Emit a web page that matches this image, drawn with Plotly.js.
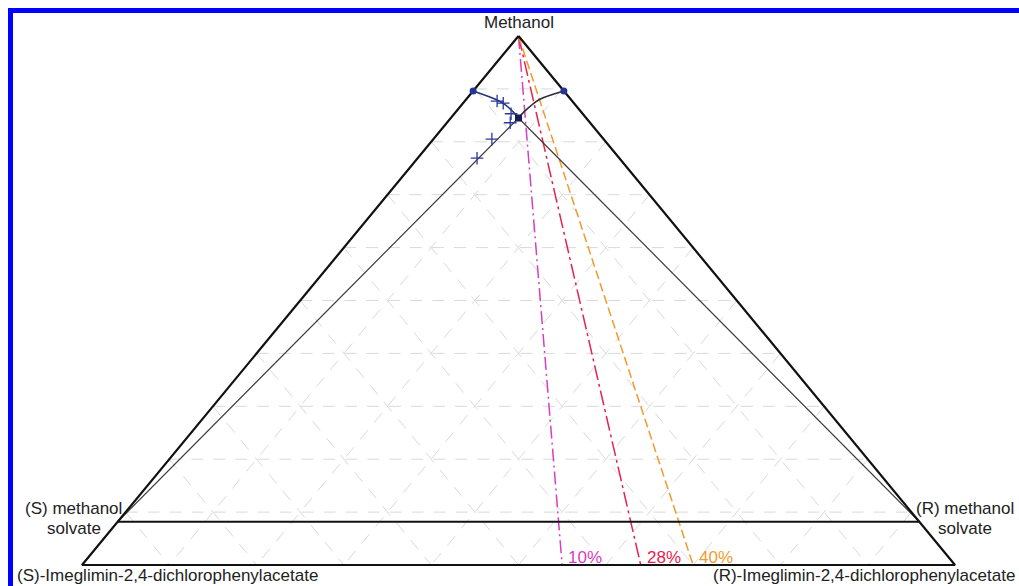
<!DOCTYPE html>
<html>
<head>
<meta charset="utf-8">
<script src="https://cdn.plot.ly/plotly-3.0.1.min.js"></script>
<style>
  html, body { margin: 0; padding: 0; background: #fff; }
  #wrap { position: relative; width: 1019px; height: 586px; overflow: hidden; }
  #chart { width: 1019px; height: 586px; }
  #frame { position: absolute; left: 8px; top: 8px; width: 1011px; height: 578px;
           border-left: 5px solid #0000ff; border-top: 5px solid #0000ff;
           box-sizing: border-box; pointer-events: none; }
</style>
</head>
<body>
<div id="wrap"><div id="chart"></div><div id="frame"></div></div>
<script>
// ---------- data (ternary mass fractions: a = methanol, b = (S), c = (R)) ----------
const vertexLabels = ['Methanol', '(S)-Imeglimin-2,4-dichlorophenylacetate', '(R)-Imeglimin-2,4-dichlorophenylacetate'];
const solvateLabels = ['(S) methanol', '(R) methanol', 'solvate'];
const gridTicks = [0.1, 0.2, 0.3, 0.4, 0.5, 0.6, 0.7, 0.8, 0.9];
const solvateMethanol = 0.0817;               // methanol fraction of the 1:1 solvates

// pure-enantiomer solubility points (on the sides)
const pureA = [0.896, 0.896];
const pureB = [0.104, 0.000];
const pureC = [0.000, 0.104];

// eutectic (racemic) point
const eutA = [0.845];
const eutB = [0.0775];
const eutC = [0.0775];

// solubility curve S-side (pure S point -> eutectic)
const curveSA = [0.896, 0.879, 0.870, 0.858, 0.845];
const curveSC = [0.000, 0.036, 0.050, 0.064, 0.0775];
// solubility curve R-side (pure R point -> eutectic)
const curveRA = [0.896, 0.880, 0.868, 0.857, 0.845];
const curveRB = [0.000, 0.036, 0.052, 0.065, 0.0775];

// measured points (+)
const crossA = [0.877, 0.873, 0.853, 0.836, 0.805, 0.769];
const crossC = [0.037, 0.046, 0.065, 0.0725, 0.067, 0.068];

// enantiomeric-excess lines from the methanol vertex
const eeValues = [10, 28, 40];
const eeLabels = ['10%', '28%', '40%'];
const eeColors = ['#d63fbf', '#e6224e', '#f29a2e'];
const eeDash = ['13px,4px,2px,4px', '15px,4px,3px,4px', '9px,4px'];

// ---------- projection ternary -> plane ----------
function px(a, b, c) { const s = a + b + c; return c / s + 0.5 * a / s; }
function py(a, b, c) { const s = a + b + c; return a / s; }
function proj(A, B, C) {
  return { x: A.map((a, i) => px(a, B[i], C[i])), y: A.map((a, i) => py(a, B[i], C[i])) };
}

const traces = [];
const gridStyle = { color: '#d9d9d9', width: 1, dash: '12px,10px' };
function seg(A, B, C, line, extra) {
  const p = proj(A, B, C);
  traces.push(Object.assign({ type: 'scatter', mode: 'lines', x: p.x, y: p.y, line: line,
    hoverinfo: 'skip', cliponaxis: false }, extra || {}));
}

// grid lines
gridTicks.forEach(k => {
  seg([k, k], [1 - k, 0], [0, 1 - k], gridStyle);          // constant methanol
  seg([1 - k, 0], [k, k], [0, 1 - k], gridStyle);          // constant S
  seg([1 - k, 0], [0, 1 - k], [k, k], gridStyle);          // constant R
});

// ee lines
eeValues.forEach((e, i) => {
  const cb = (1 + e / 100) / 2;
  seg([1, 0], [0, 1 - cb], [0, cb], { color: eeColors[i], width: 1.5, dash: eeDash[i] });
});

// tie lines solvate -> eutectic
seg([solvateMethanol, eutA[0]], [1 - solvateMethanol, eutB[0]], [0, eutC[0]], { color: '#3a3a3a', width: 1.2 });
seg([solvateMethanol, eutA[0]], [0, eutB[0]], [1 - solvateMethanol, eutC[0]], { color: '#3a3a3a', width: 1.2 });

// solvate line
seg([solvateMethanol, solvateMethanol], [1 - solvateMethanol, 0], [0, 1 - solvateMethanol], { color: '#111', width: 2 });

// outer triangle
seg([1, 0, 0, 1], [0, 1, 0, 0], [0, 0, 1, 0], { color: '#111', width: 2.2 });

// solubility curves
seg(curveSA, curveSA.map((a, i) => 1 - a - curveSC[i]), curveSC, { color: '#23307a', width: 1.5, shape: 'spline' });
seg(curveRA, curveRB, curveRA.map((a, i) => 1 - a - curveRB[i]), { color: '#2c2c3c', width: 1.5, shape: 'spline' });

// crosses
(function () {
  const p = proj(crossA, crossA.map((a, i) => 1 - a - crossC[i]), crossC);
  traces.push({ type: 'scatter', mode: 'markers', x: p.x, y: p.y, hoverinfo: 'skip', cliponaxis: false,
    marker: { symbol: 'cross-thin', size: 9, line: { color: '#2b3a9a', width: 1.3 } } });
})();
// pure points
(function () {
  const p = proj(pureA, pureB, pureC);
  traces.push({ type: 'scatter', mode: 'markers', x: p.x, y: p.y, hoverinfo: 'skip', cliponaxis: false,
    marker: { symbol: 'circle', size: 7, color: '#26359a' } });
  const q = proj(eutA, eutB, eutC);
  traces.push({ type: 'scatter', mode: 'markers', x: q.x, y: q.y, hoverinfo: 'skip', cliponaxis: false,
    marker: { symbol: 'square', size: 7, color: '#151c5a' } });
})();

// ---------- annotations ----------
const font = { family: 'Arial, "Liberation Sans", sans-serif', size: 17, color: '#222' };
const ann = [];
ann.push({ x: px(1, 0, 0), y: py(1, 0, 0), text: vertexLabels[0], showarrow: false, font: font,
  xanchor: 'center', yanchor: 'bottom', yshift: 2 });
ann.push({ x: px(0, 1, 0), y: py(0, 1, 0), text: vertexLabels[1], showarrow: false, font: font,
  xanchor: 'left', yanchor: 'middle', xshift: -67, yshift: -10 });
ann.push({ x: px(0, 0, 1), y: py(0, 0, 1), text: vertexLabels[2], showarrow: false, font: font,
  xanchor: 'right', yanchor: 'middle', xshift: 62, yshift: -10 });
const sL = { x: px(solvateMethanol, 1 - solvateMethanol, 0), y: solvateMethanol };
const sR = { x: px(solvateMethanol, 0, 1 - solvateMethanol), y: solvateMethanol };
ann.push({ x: sL.x, y: sL.y, text: solvateLabels[0], showarrow: false, font: font, xanchor: 'center', yanchor: 'middle', xshift: -44, yshift: 13 });
ann.push({ x: sL.x, y: sL.y, text: solvateLabels[2], showarrow: false, font: font, xanchor: 'center', yanchor: 'middle', xshift: -44, yshift: -7 });
ann.push({ x: sR.x, y: sR.y, text: solvateLabels[1], showarrow: false, font: font, xanchor: 'center', yanchor: 'middle', xshift: 46, yshift: 13 });
ann.push({ x: sR.x, y: sR.y, text: solvateLabels[2], showarrow: false, font: font, xanchor: 'center', yanchor: 'middle', xshift: 46, yshift: -7 });
eeValues.forEach((e, i) => {
  const cb = (1 + e / 100) / 2;
  ann.push({ x: px(0, 1 - cb, cb), y: 0, text: eeLabels[i], showarrow: false,
    font: Object.assign({}, font, { color: eeColors[i] }), xanchor: 'left', yanchor: 'middle', xshift: 4, yshift: 8 });
});

// ---------- layout ----------
const padX = 44 / 873, padY = 16 / 529;
const layout = {
  width: 1019, height: 586,
  margin: { l: 38, r: 20, t: 20, b: 5, autoexpand: false },
  paper_bgcolor: '#fff', plot_bgcolor: '#fff',
  showlegend: false, hovermode: false,
  xaxis: { visible: false, range: [-padX, 1 + padX], fixedrange: true },
  yaxis: { visible: false, range: [-padY, 1 + padY], fixedrange: true },
  annotations: ann
};
Plotly.newPlot('chart', traces, layout, { staticPlot: true, displayModeBar: false });
</script>
</body>
</html>
